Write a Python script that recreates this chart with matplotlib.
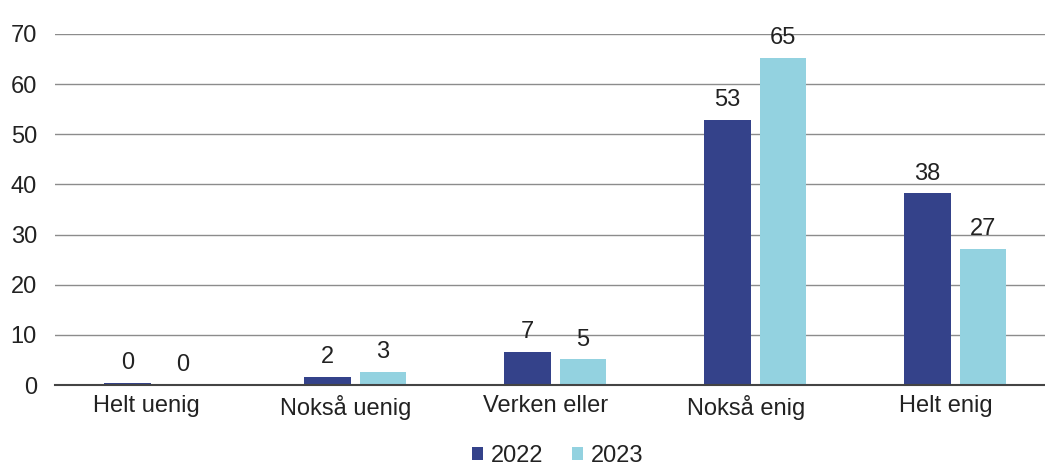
import matplotlib
matplotlib.use("Agg")
import matplotlib.pyplot as plt
import matplotlib.transforms as mtransforms
import numpy as np

plt.rcParams['font.family'] = ['Liberation Sans', 'DejaVu Sans']

categories = ['Helt uenig', 'Nokså uenig', 'Verken eller', 'Nokså enig', 'Helt enig']
years = ['2022', '2023']
values_2022 = [0.4, 1.6, 6.6, 52.9, 38.2]
values_2023 = [0.0, 2.6, 5.1, 65.3, 27.2]
colors = ['#34428A', '#93D2E0']
yticks = [0, 10, 20, 30, 40, 50, 60, 70]

W, H, DPI = 1045, 467, 100
fig = plt.figure(figsize=(W / DPI, H / DPI), dpi=DPI)
# plot area runs slightly past the right edge of the canvas
ax = fig.add_axes([55 / W, 82 / H, 1000 / W, 351 / H])

x = np.arange(len(categories))
width = 0.233
offset = 0.139
text_color = '#222222'
fs = 17

for vals, col, lab, sign in [(values_2022, colors[0], years[0], -1),
                             (values_2023, colors[1], years[1], 1)]:
    bars = ax.bar(x + sign * offset, vals, width, color=col, label=lab, zorder=3)
    for b, v in zip(bars, vals):
        ax.annotate(f"{v:.0f}", (b.get_x() + b.get_width() / 2, b.get_height()),
                    xytext=(0, 10), textcoords='offset points',
                    ha='center', va='baseline', fontsize=fs, color=text_color)

ax.set_xlim(-0.5, len(categories) - 0.5)
ax.set_ylim(0, 70)
ax.set_yticks(yticks)
ax.set_xticks(x)
ax.set_xticklabels(categories)
ax.grid(axis='y', color='#8c8c8c', linewidth=1.0, zorder=0)
ax.tick_params(axis='y', length=0, pad=13, labelsize=fs, labelcolor=text_color)
ax.tick_params(axis='x', length=0, pad=7, labelsize=fs, labelcolor=text_color)

# category labels sit a little left of the bar pairs
shift = mtransforms.ScaledTranslation(-9 / DPI, 0, fig.dpi_scale_trans)
for lbl in ax.get_xticklabels():
    lbl.set_transform(lbl.get_transform() + shift)

for s in ['left', 'right', 'top']:
    ax.spines[s].set_visible(False)
ax.spines['bottom'].set_color('#444444')
ax.spines['bottom'].set_linewidth(1.5)
ax.spines['bottom'].set_zorder(4)

ax.legend(loc='center', bbox_to_anchor=(503 / 1000, -71 / 351), ncol=2, frameon=False,
          fontsize=fs, handlelength=0.45, handleheight=0.45, handletextpad=0.35,
          columnspacing=1.2, labelcolor=text_color, borderpad=0.2)

fig.savefig('out.png', dpi=DPI)
